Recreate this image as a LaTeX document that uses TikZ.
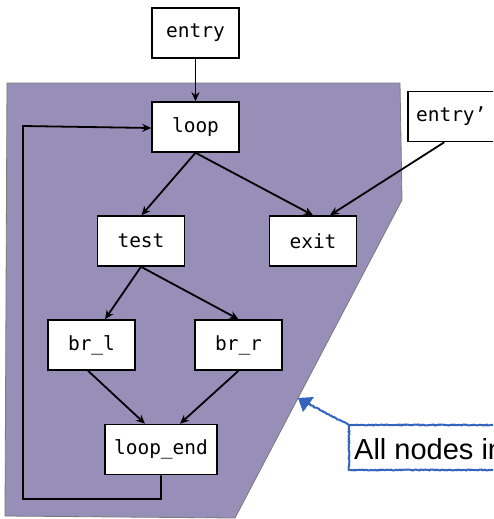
\documentclass[tikz,border=0pt]{standalone}
\usepackage{fontspec}
\setmainfont{Liberation Sans}
\newfontfamily\codefont{DejaVu Sans Mono}
\usetikzlibrary{arrows.meta,decorations.pathmorphing}
\definecolor{regionfill}{HTML}{988FB9}
\definecolor{regionedge}{HTML}{7A7A7A}
\definecolor{noteblue}{HTML}{3563C0}
\begin{document}
\begin{tikzpicture}[x=1pt,y=-1pt,
  block/.style={draw=black,fill=white,line width=1.5pt,rectangle,
    minimum width=87pt,minimum height=50pt,inner sep=0pt,
    font=\codefont\fontsize{19.5}{21}\selectfont},
  edge/.style={line width=1.8pt,-{Stealth[length=9pt,width=8pt]}},
  sketch/.style={noteblue,line width=2pt,decorate,
    decoration={random steps,segment length=1.2pt,amplitude=0.5pt}}]
\useasboundingbox (0,0) rectangle (493,519);
\clip (0,0) rectangle (493,519);

% shaded region containing the loop body
\fill[regionfill,draw=regionedge,line width=0.8pt]
  (7,83) -- (400,83) -- (402,200) -- (235,518) -- (5,516) -- cycle;

% blocks
\node[block] (entry)  at (195.5,33)  {entry};
\node[block] (loop)   at (195.5,127) {loop};
\node[block,anchor=west] (entry2) at (407,116.5) {entry’};
\node[block] (test)   at (141,241)   {test};
\node[block] (exit)   at (313,241)   {exit};
\node[block] (brl)    at (91.5,345)  {br\_l};
\node[block] (brr)    at (238.5,345) {br\_r};
\node[block,minimum width=112pt] (lend) at (161,449.5) {loop\_end};

% control-flow edges
\draw[edge] (entry.south) -- (loop.north);
\draw[edge] (loop.south) -- ([xshift=-54pt]loop.south |- test.north);
\draw[edge] (loop.south) -- ([xshift=0pt]exit.north);
\draw[edge] ([xshift=-7pt]entry2.south) -- ([xshift=17pt]exit.north);
\draw[edge] (test.south) -- ([xshift=13.5pt]brl.north);
\draw[edge] (test.south) -- (brr.north);
\draw[edge] ([xshift=-3.5pt]brl.south) -- ([xshift=-16pt]lend.north);
\draw[edge] (brr.south) -- ([xshift=19pt]lend.north);

% back edge
\coordinate (bl) at (23,499);
\draw[edge] (lend.south) -- (lend.south |- bl) -- (bl)
  -- (23,126) -- ([yshift=-1pt]loop.west);

% annotation
\node[draw=none,anchor=west,inner sep=0pt,font=\fontsize{29}{32}\selectfont]
  (note) at (354,449) {All nodes in};
\draw[sketch] (349,425) rectangle (560,470);
\coordinate (tip) at (298,398);
\draw[sketch] (349,425) -- (305,402);
\fill[noteblue] (tip) -- (314,397) -- (303,412) -- cycle;
\end{tikzpicture}
\end{document}
